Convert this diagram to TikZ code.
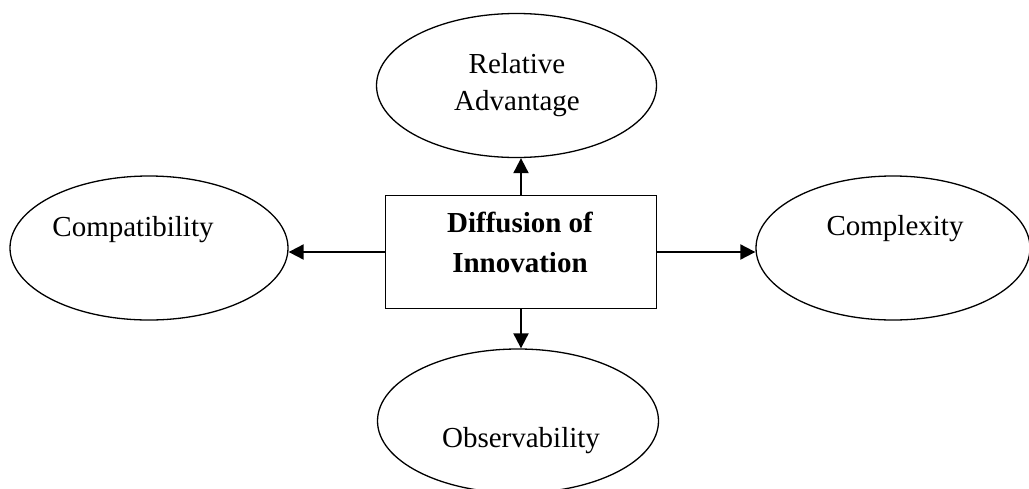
\documentclass[tikz,border=0pt]{standalone}
\usepackage{fontspec}
\setmainfont{Liberation Serif}
\usetikzlibrary{shapes.geometric,arrows.meta}
\begin{document}
\begin{tikzpicture}[x=1pt,y=-1pt,
  factor/.style={draw,ellipse,line width=1.3pt,inner sep=0pt,minimum width=280pt,minimum height=144pt},
  label text/.style={font=\fontsize{29}{37}\selectfont,inner sep=0pt,anchor=base,align=center},
  core/.style={draw,line width=1.5pt,minimum width=271pt,minimum height=113pt,inner sep=0pt},
  arr/.style={line width=2pt,-{Triangle[length=15pt,width=15pt]}}]
\useasboundingbox (0,0) rectangle (1029,488);
% central box
\node[core] (box) at (521,252) {};
\node[label text,font=\fontsize{29}{40}\selectfont\bfseries] (boxtxt) at (520,272) {Diffusion of\\Innovation};
% four attributes
\node[factor] (rel) at (516.5,85.5) {};
\node[label text] (reltxt) at (517,110) {Relative\\Advantage};
\node[factor,minimum width=278pt] (comp) at (149,248) {};
\node[label text] (comptxt) at (133,236) {Compatibility};
\node[factor,minimum width=274pt] (cplx) at (893,248) {};
\node[label text] (cplxtxt) at (895,235) {Complexity};
\node[factor,minimum width=281pt] (obs) at (518,421) {};
\node[label text] (obstxt) at (521,447) {Observability};
% arrows from the box to each attribute
\draw[arr] (box.north) -- (box.north |- rel.south);
\draw[arr] (box.west) -- (box.west -| comp.east);
\draw[arr] (box.east) -- (box.east -| cplx.west);
\draw[arr] (box.south) -- (box.south |- obs.north);
\end{tikzpicture}
\end{document}
